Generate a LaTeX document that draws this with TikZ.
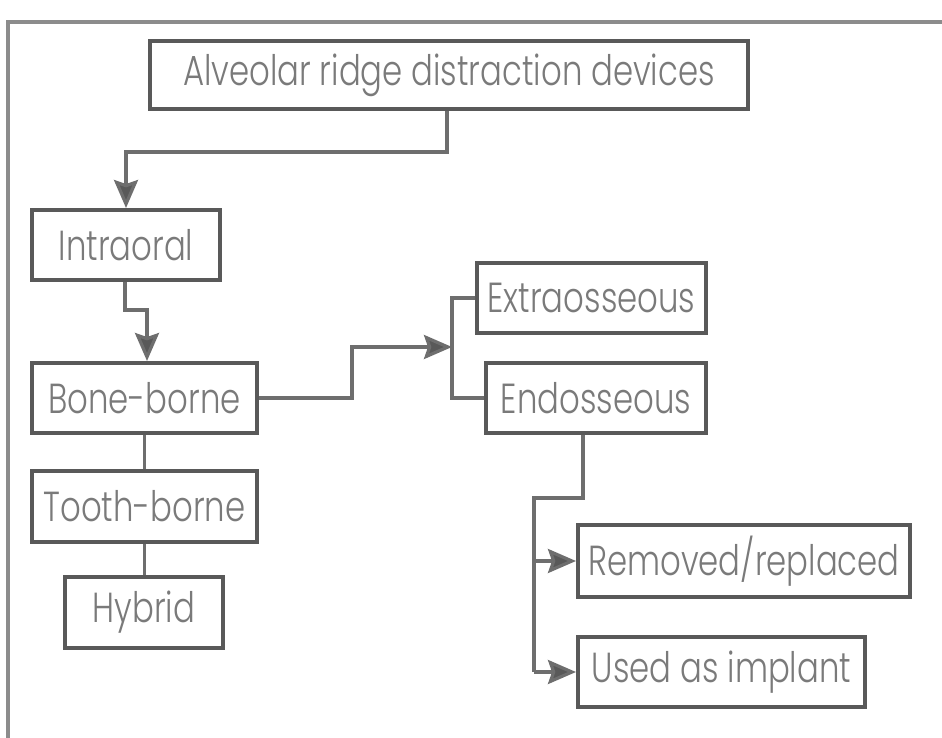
\documentclass[tikz,border=0pt]{standalone}
\usepackage{fontspec}
\IfFontExistsTF{Poppins Light}{\setmainfont{Poppins Light}[FakeStretch=0.77]}{\setmainfont{Poppins}[FakeStretch=0.77]}
\usetikzlibrary{arrows.meta}
\definecolor{boxc}{HTML}{595959}
\definecolor{linec}{HTML}{6E6E6E}
\definecolor{txtc}{HTML}{7A7A7A}
\definecolor{framec}{HTML}{8C8C8C}
\begin{document}
\begin{tikzpicture}[x=1pt,y=-1pt,
  box/.style={draw=boxc,line width=4pt,fill=white,rectangle,inner sep=0pt,
    text=txtc,font=\fontsize{42}{48}\selectfont,anchor=center},
  conn/.style={draw=linec,line width=3.2pt},
  arr/.style={conn,-{Stealth[length=28pt,width=24pt,inset=4pt,fill=boxc]}},
]
\useasboundingbox (0,0) rectangle (942,738);
\draw[framec,line width=4pt] (8,738) -- (8,22) -- (942,22);

\node[box,minimum width=598pt,minimum height=68pt] (title) at (449,75) {Alveolar ridge distraction devices};
\node[box,minimum width=188pt,minimum height=70pt] (intra) at (126,245) {Intraoral};
\node[box,minimum width=225pt,minimum height=70pt] (bone) at (144.5,398) {Bone-borne};
\node[box,minimum width=225pt,minimum height=71pt] (tooth) at (144.5,506.5) {Tooth-borne};
\node[box,minimum width=158pt,minimum height=71pt] (hybrid) at (144,612.5) {Hybrid};
\node[box,minimum width=229pt,minimum height=70pt] (extra) at (591.5,298) {Extraosseous};
\node[box,minimum width=220pt,minimum height=70pt] (endo) at (596,398) {Endosseous};
\node[box,minimum width=332pt,minimum height=72pt] (removed) at (744,561) {Removed/replaced};
\node[box,minimum width=287pt,minimum height=70pt] (used) at (721.5,672) {Used as implant};

% title -> intraoral
\coordinate (t1) at (447,152);
\draw[arr] (title.south -| t1) -- (t1) -| (intra.north);
% intraoral -> bone-borne
\coordinate (i1) at (125,310);
\coordinate (i2) at (147,310);
\draw[arr] (intra.south -| i1) -- (i1) -- (i2) -- (bone.north -| i2);
% bone -> tooth -> hybrid
\draw[conn] (bone.south) -- (tooth.north);
\draw[conn] (tooth.south) -- (tooth.south |- hybrid.north);
% bone -> branch
\coordinate (b1) at (352,398);
\coordinate (br) at (452,347);
\draw[arr] (bone.east) -- (b1) |- (br);
\draw[conn] (extra.west) -| (br) |- (endo.west);
% endo -> removed / used
\coordinate (e1) at (583,498);
\coordinate (e2) at (534,498);
\draw[conn] (endo.south -| e1) -- (e1) -- (e2) -- (e2 |- used.west);
\draw[arr] (e2 |- used.west) -- (used.west);
\draw[arr] (e2 |- removed.west) -- (removed.west);
\end{tikzpicture}
\end{document}
